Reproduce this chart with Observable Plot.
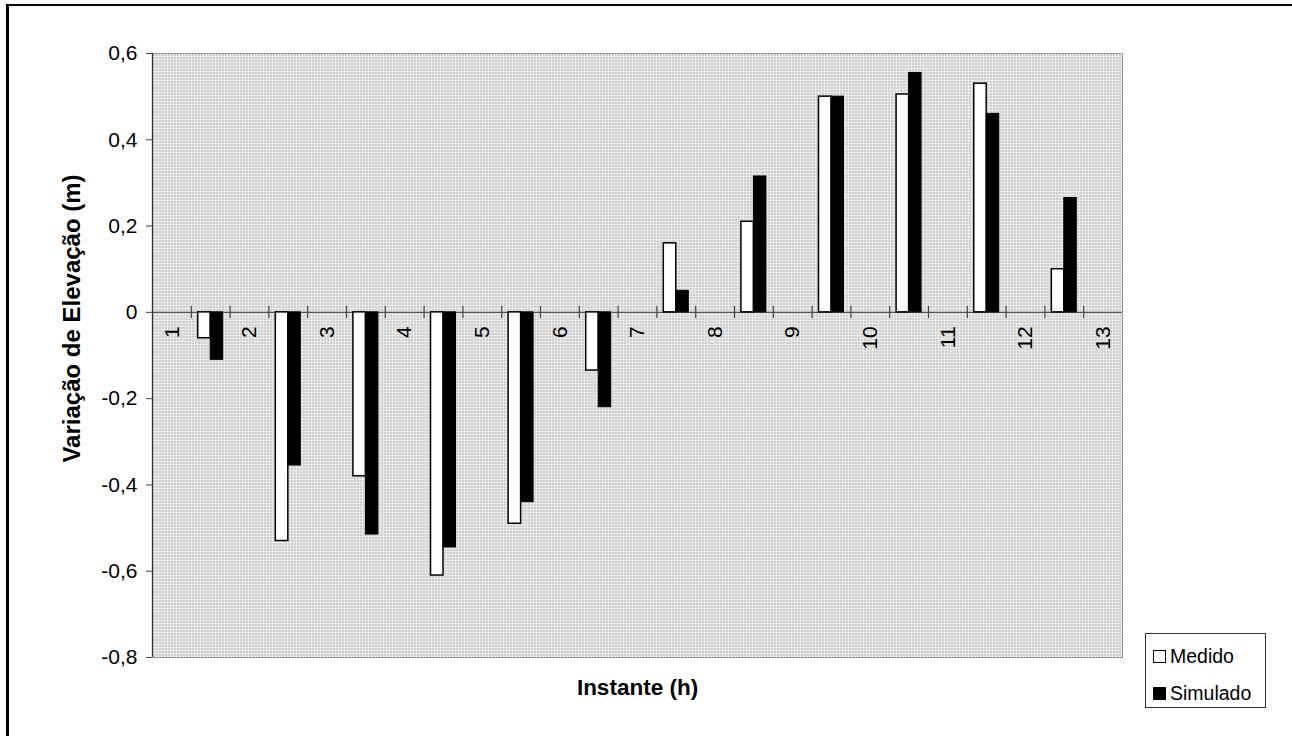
<!DOCTYPE html>
<html>
<head>
<meta charset="utf-8">
<script src="https://cdn.jsdelivr.net/npm/d3@7"></script>
<script src="https://cdn.jsdelivr.net/npm/@observablehq/plot@0.6"></script>
<style>
  html, body { margin: 0; padding: 0; background: #fff; }
  #wrap { position: relative; width: 1292px; height: 736px; overflow: hidden; font-family: "Liberation Sans", Arial, sans-serif; }
  #border { position: absolute; left: 6px; top: 4px; right: -10px; bottom: -10px; border-top: 2px solid #000; border-left: 3px solid #000; pointer-events: none; }
  #legend { position: absolute; left: 1145px; top: 633px; width: 119px; height: 73px; border: 1px solid #333; background: #fff; box-sizing: content-box; }
  .item { position: absolute; left: 7px; display: flex; align-items: center; font-size: 19.5px; color: #000; }
  .sw { width: 13px; height: 13px; border: 1.5px solid #000; margin-right: 4px; box-sizing: border-box; }
</style>
</head>
<body>
<div id="wrap">
  <div id="chart"></div>
  <div id="border"></div>
  <div id="legend">
    <div class="item" style="top:11px"><div class="sw" style="background:#fff"></div><span>Medido</span></div>
    <div class="item" style="top:48px"><div class="sw" style="background:#000"></div><span>Simulado</span></div>
  </div>
</div>
<script>
// Instantes (h) – category tick labels
const instantes = [1, 2, 3, 4, 5, 6, 7, 8, 9, 10, 11, 12, 13];
// Variação de Elevação (m) – one pair of bars between consecutive instants
const medido   = [-0.06, -0.53, -0.38, -0.61, -0.49, -0.135, 0.16, 0.21, 0.50, 0.505, 0.53, 0.10];
const simulado = [-0.11, -0.355, -0.515, -0.545, -0.44, -0.22, 0.05, 0.315, 0.50, 0.555, 0.46, 0.265];
const yTicks = [-0.8, -0.6, -0.4, -0.2, 0, 0.2, 0.4, 0.6];
const yTitle = "Variação de Elevação (m)";
const xTitle = "Instante (h)";

const barW = 0.161;
const pairs = medido.map((m, i) => ({t: instantes[i], medido: m, simulado: simulado[i]}));
const tickPos = instantes.flatMap((k, i) => [
  ...(i > 0 ? [k - 0.25] : []),
  ...(i < instantes.length - 1 ? [k + 0.25] : [])
]);
const fmt = d => d === 0 ? "0" : d.toFixed(1).replace(".", ",");

const xMin = instantes[0] - 0.25, xMax = instantes[instantes.length - 1] + 0.25;

const plot = Plot.plot({
  width: 1292,
  height: 736,
  marginLeft: 152,
  marginRight: 170,
  marginTop: 53,
  marginBottom: 79,
  style: {fontFamily: "'Liberation Sans', Arial, sans-serif", fontSize: "20px", background: "transparent", color: "#000"},
  x: {domain: [xMin, xMax], axis: null},
  y: {domain: [-0.8, 0.6], axis: null},
  marks: [
    Plot.frame({fill: "url(#bgpat)", stroke: "none"}),
    Plot.frame({stroke: "#666", strokeDasharray: "2,1"}),
    Plot.ruleY([0], {stroke: "#555", strokeWidth: 1.2}),
    Plot.ruleX(tickPos, {y1: -0.014, y2: 0.014, stroke: "#444", strokeWidth: 1.2}),
    Plot.ruleX([xMin], {stroke: "#333", strokeWidth: 1.3}),
    Plot.rectY(pairs, {x1: d => d.t + 0.5 - barW, x2: d => d.t + 0.5, y1: 0, y2: "medido", fill: "#fff", stroke: "#000", strokeWidth: 1.5}),
    Plot.rectY(pairs, {x1: d => d.t + 0.5, x2: d => d.t + 0.5 + barW, y1: 0, y2: "simulado", fill: "#000", stroke: "#000", strokeWidth: 1}),
    Plot.axisY({ticks: yTicks, tickFormat: fmt, tickSize: 6, tickPadding: 9, stroke: "#444", fontSize: 21, label: null}),
    Plot.text(instantes, {x: d => d, y: 0, text: d => String(d), rotate: -90, textAnchor: "end", dy: 14, fontSize: 21, fill: "#000"}),
    Plot.text([yTitle], {frameAnchor: "left", textAnchor: "middle", rotate: -90, dx: -80, dy: -37, fontSize: 24, fontWeight: "bold", fill: "#000"}),
    Plot.text([xTitle], {frameAnchor: "bottom", dy: 37, fontSize: 22.5, fontWeight: "bold", fill: "#000"})
  ]
});

// halftone-like background pattern for the plot area
const defs = d3.select(plot).insert("defs", ":first-child");
const p = defs.append("pattern").attr("id", "bgpat").attr("width", 3).attr("height", 3).attr("patternUnits", "userSpaceOnUse");
p.append("rect").attr("width", 3).attr("height", 3).attr("fill", "#f2f2f2");
p.append("rect").attr("width", 3).attr("height", 1).attr("fill", "#d8d8d8");
p.append("rect").attr("width", 1).attr("height", 3).attr("fill", "#d8d8d8");
p.append("rect").attr("width", 1).attr("height", 1).attr("fill", "#a0a0a0");

document.getElementById("chart").appendChild(plot);
</script>
</body>
</html>
